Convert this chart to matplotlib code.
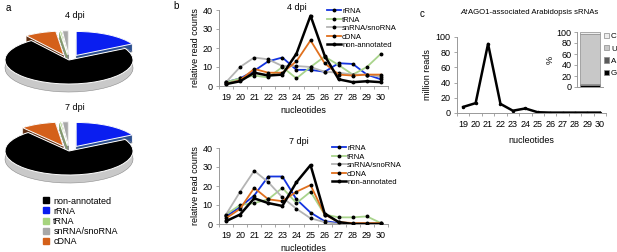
import numpy as np
import matplotlib
matplotlib.use("Agg")
import matplotlib.pyplot as plt
from matplotlib.patches import Wedge
from matplotlib.lines import Line2D

plt.rcParams["font.family"] = ["Liberation Sans", "DejaVu Sans"]

W, H = 617, 252

# ---- data ----
classes = ["non-annotated", "rRNA", "tRNA", "snRNA/snoRNA", "cDNA"]
pie_4dpi = [73, 17, 0.5, 1.5, 8]
pie_7dpi = [72, 17, 0.5, 1.5, 9]

nt = list(range(19, 31))

rrna_4 = [2, 4, 8, 13, 15, 8.5, 8.5, 7.5, 12, 11.6, 6, 3.5]
trna_4 = [2, 4, 5.5, 4.5, 10, 4, 10, 15.5, 11, 6, 10, 17]
snrna_4 = [2, 10, 15, 14, 10.5, 10.5, 10, 7.5, 7, 6, 6, 5]
cdna_4 = [1, 3, 9, 7, 7, 13, 24, 12, 6, 5.5, 6, 6]
nonann_4 = [1, 2.5, 7, 5.5, 6, 17, 37, 16, 3.5, 2, 2.5, 2]

rrna_7 = [4, 9, 15, 25, 25, 13, 6, 1.5, 0.5, 0, 0, 0]
trna_7 = [5, 10, 11, 13, 19, 11, 17, 5, 3.5, 3.5, 4, 0.5]
snrna_7 = [5, 17, 28, 22, 14, 8, 3, 1, 0, 0, 0, 0]
cdna_7 = [3, 8, 19, 13, 12, 17, 20.5, 5, 1, 0.5, 0.5, 0.5]
nonann_7 = [1.5, 5, 13.5, 11, 9.5, 22, 31, 5.5, 1, 0, 0, 0]

ago1_reads = [8, 13, 91, 12, 3, 6, 1, 0.5, 0.5, 0.5, 0.5, 0.5]
nuc_labels = ["G", "A", "U", "C"]
nuc_pct = [3, 3, 91, 3]

top_col = {"non-annotated": "#000000", "rRNA": "#0a1ef0", "tRNA": "#a6d47e",
           "snRNA/snoRNA": "#a8a8a8", "cDNA": "#d4601a"}
side_col = {"non-annotated": "#c9c9c9", "rRNA": "#2b4f8f", "tRNA": "#7fa060",
            "snRNA/snoRNA": "#8c8c8c", "cDNA": "#5e2e12"}
line_col = {"non-annotated": "#000000", "rRNA": "#1434e0", "tRNA": "#a9d48c",
            "snRNA/snoRNA": "#b4b4b4", "cDNA": "#e0701e"}
nuc_col = {"G": "#000000", "A": "#5a5a5a", "U": "#c8c8c8", "C": "#eeeeee"}


def box(l, t, r, b):
    return [l / W, 1 - b / H, (r - l) / W, (b - t) / H]


fig = plt.figure(figsize=(W / 100, H / 100), dpi=100)

# pie geometry in pixels: half width, half height of the top face, thickness
RX, RY, DEPTH = 64, 24, 8


# ---- panel a: pseudo 3D pies ----
def draw_pie(ax, fracs):
    total = sum(fracs)
    order = ["snRNA/snoRNA", "tRNA", "cDNA", "non-annotated", "rRNA"]
    spans = {}
    a = 90.0
    for name in order:
        d = 360.0 * fracs[classes.index(name)] / total
        spans[name] = (a, a + d)
        a += d
    depth = DEPTH / RY
    for name in ["snRNA/snoRNA", "tRNA", "cDNA", "rRNA", "non-annotated"]:
        t1, t2 = spans[name]
        ex = 0.0 if name == "non-annotated" else 0.22
        mid = np.radians((t1 + t2) / 2)
        cx, cy = ex * np.cos(mid), ex * np.sin(mid)
        for k in np.linspace(-depth, 0, 24):
            ax.add_patch(Wedge((cx, cy + k), 1, t1, t2, facecolor=side_col[name], lw=0))
        ax.add_patch(Wedge((cx, cy - depth), 1, t1, t2, facecolor="none",
                           edgecolor="#909090", lw=0.4))
        ax.add_patch(Wedge((cx, cy), 1, t1, t2, facecolor=top_col[name],
                           edgecolor="white", lw=0.7))
    ax.set_xlim(-69 / RX, 71 / RX)
    ax.set_ylim(-38 / RY, 38 / RY)
    ax.set_aspect("auto")
    ax.axis("off")


# pie centres at y = 60 and y = 151
ax_p4 = fig.add_axes(box(0, 22, 140, 98))
draw_pie(ax_p4, pie_4dpi)
ax_p7 = fig.add_axes(box(0, 113, 140, 189))
draw_pie(ax_p7, pie_7dpi)

fig.text(75 / W, 1 - 16 / H, "4 dpi", fontsize=6.5, ha="center", va="center")
fig.text(75 / W, 1 - 107 / H, "7 dpi", fontsize=6.5, ha="center", va="center")

handles = [Line2D([], [], ls="none", marker="s", ms=4, color=top_col[c]) for c in classes]
fig.legend(handles, classes, loc="upper left", bbox_to_anchor=(38 / W, 1 - 192 / H),
           frameon=False, fontsize=6.5, handlelength=0.8, handletextpad=0.4,
           labelspacing=0.12, borderpad=0)


# ---- panel b ----
def excel_axes(ax, ymax, ystep):
    ax.set_xlim(18.5, 30.5)
    ax.set_ylim(0, ymax)
    ax.set_xticks(nt)
    ax.set_xticks(np.arange(18.5, 31, 1), minor=True)
    ax.set_yticks(np.arange(0, ymax + 1, ystep))
    ax.tick_params(axis="x", which="major", length=0, pad=5, labelsize=6.5)
    ax.tick_params(axis="x", which="minor", length=2.5, color="#999999", width=0.6)
    ax.tick_params(axis="y", length=2.5, color="#999999", width=0.6, labelsize=6.5, pad=2)
    for s in ["top", "right"]:
        ax.spines[s].set_visible(False)
    for s in ["left", "bottom"]:
        ax.spines[s].set_color("#999999")
        ax.spines[s].set_linewidth(0.7)
    ax.patch.set_alpha(0)


def panel_b(ax, series, leg_anchor):
    order = ["rRNA", "tRNA", "snRNA/snoRNA", "cDNA", "non-annotated"]
    for name in order:
        lw = 1.8 if name == "non-annotated" else 1.3
        ax.plot(nt, series[name], color=line_col[name], lw=lw, marker="o", ms=1.8,
                mfc="black", mec="black", label=name, zorder=3 if name == "non-annotated" else 2)
    excel_axes(ax, 40, 10)
    ax.set_ylabel("relative read counts", fontsize=6.5, labelpad=2)
    ax.set_xlabel("nucleotides", fontsize=6.5, labelpad=3)
    ax.legend(loc="upper left", bbox_to_anchor=leg_anchor, bbox_transform=fig.transFigure,
              frameon=False, fontsize=5.5, handlelength=1.8, handletextpad=0.2,
              labelspacing=0.15, borderpad=0)


ax_b4 = fig.add_axes(box(219, 10, 388, 86))
panel_b(ax_b4, {"rRNA": rrna_4, "tRNA": trna_4, "snRNA/snoRNA": snrna_4,
                "cDNA": cdna_4, "non-annotated": nonann_4}, (323 / W, 1 - 4 / H))
ax_b7 = fig.add_axes(box(219, 148, 388, 224))
panel_b(ax_b7, {"rRNA": rrna_7, "tRNA": trna_7, "snRNA/snoRNA": snrna_7,
                "cDNA": cdna_7, "non-annotated": nonann_7}, (328 / W, 1 - 141 / H))

fig.text(297 / W, 1 - 7 / H, "4 dpi", fontsize=6.5, ha="center", va="center")
fig.text(299 / W, 1 - 142 / H, "7 dpi", fontsize=6.5, ha="center", va="center")

# ---- panel c ----
ax_c = fig.add_axes(box(457, 37, 606, 113))
ax_c.plot(nt, ago1_reads, color="black", lw=1.8, marker="o", ms=1.5)
excel_axes(ax_c, 100, 20)
ax_c.set_ylabel("million reads", fontsize=6.5, labelpad=3)
ax_c.set_xlabel("nucleotides", fontsize=6.5, labelpad=5)

fig.text(468 / W, 1 - 13 / H, "At", fontsize=5.6, style="italic", ha="right", va="center")
fig.text(468 / W, 1 - 13 / H, "AGO1-associated Arabidopsis sRNAs", fontsize=5.6,
         ha="left", va="center")

ax_in = fig.add_axes(box(577, 32, 603, 87))
bottom = 0
for lab, val in zip(nuc_labels, nuc_pct):
    ax_in.bar([0], [val], bottom=bottom, width=0.8, color=nuc_col[lab],
              edgecolor="#8a8a8a", lw=0.5, label=lab)
    bottom += val
ax_in.set_xlim(-0.5, 0.5)
ax_in.set_ylim(0, 100)
ax_in.set_xticks([])
ax_in.set_yticks(range(0, 101, 20))
ax_in.tick_params(axis="y", length=2, color="#999999", width=0.6, labelsize=6.5, pad=2)
for s in ["top", "right"]:
    ax_in.spines[s].set_visible(False)
for s in ["left", "bottom"]:
    ax_in.spines[s].set_color("#999999")
    ax_in.spines[s].set_linewidth(0.7)
ax_in.set_ylabel("%", fontsize=6.5, labelpad=1)
h, l = ax_in.get_legend_handles_labels()
ax_in.legend(h[::-1], l[::-1], loc="upper left", bbox_to_anchor=(600 / W, 1 - 29 / H),
             bbox_transform=fig.transFigure, frameon=False, fontsize=5.8,
             handlelength=0.6, handleheight=0.6, handletextpad=0.25,
             labelspacing=0.6, borderpad=0)

# ---- panel letters ----
fig.text(6 / W, 1 - 8 / H, "a", fontsize=7, ha="left", va="center")
fig.text(173 / W, 1 - 6 / H, "b", fontsize=7, ha="left", va="center")
fig.text(420 / W, 1 - 14 / H, "c", fontsize=7, ha="left", va="center")

fig.savefig("out.png", dpi=100)
